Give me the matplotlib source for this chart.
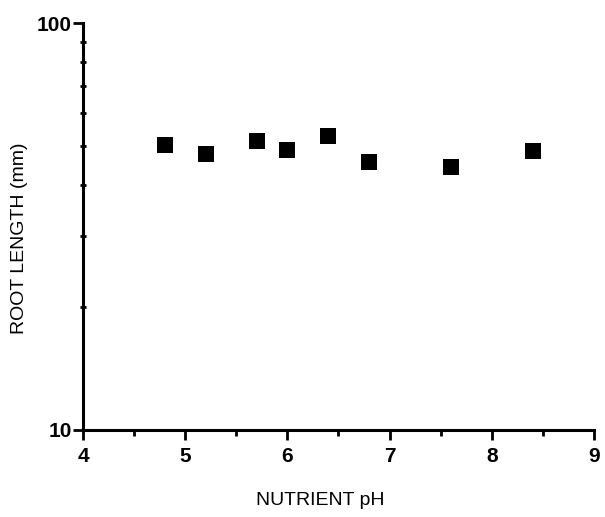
import matplotlib.pyplot as plt
from matplotlib.ticker import FixedLocator, NullFormatter, FixedFormatter

plt.rcParams['font.family'] = ['Liberation Sans', 'DejaVu Sans']

# data
ph = [4.8, 5.2, 5.7, 6.0, 6.4, 6.8, 7.6, 8.4]
root_length = [50.2, 47.6, 51.3, 48.7, 52.7, 45.5, 44.3, 48.6]

x_ticks = [4, 5, 6, 7, 8, 9]
x_minor = [4.5, 5.5, 6.5, 7.5, 8.5]
y_ticks = [10, 100]
y_minor = [20, 30, 40, 50, 60, 70, 80, 90]

fig = plt.figure(figsize=(6.05, 5.17), dpi=100)
ax = fig.add_axes([0.1372, 0.1683, 0.8446, 0.7872])

ax.plot(ph, root_length, 's', color='black', markersize=12, markeredgewidth=0)

ax.set_yscale('log')
ax.set_xlim(4, 9)
ax.set_ylim(10, 100)

ax.xaxis.set_major_locator(FixedLocator(x_ticks))
ax.xaxis.set_minor_locator(FixedLocator(x_minor))
ax.yaxis.set_major_locator(FixedLocator(y_ticks))
ax.yaxis.set_major_formatter(FixedFormatter([str(v) for v in y_ticks]))
ax.yaxis.set_minor_locator(FixedLocator(y_minor))
ax.yaxis.set_minor_formatter(NullFormatter())

for s in ['top', 'right']:
    ax.spines[s].set_visible(False)
for s in ['left', 'bottom']:
    ax.spines[s].set_linewidth(2.2)

ax.tick_params(axis='x', which='major', direction='out', length=7, width=2, pad=5, labelsize=15)
ax.tick_params(axis='x', which='minor', direction='out', length=4, width=2)
ax.tick_params(axis='y', which='major', direction='out', length=7, width=2, pad=1, labelsize=15)
ax.tick_params(axis='y', which='minor', direction='inout', length=4, width=2)
for lab in ax.get_xticklabels() + ax.get_yticklabels():
    lab.set_fontweight('bold')

ax.set_xlabel('NUTRIENT pH', fontsize=14)
ax.set_ylabel('ROOT LENGTH (mm)', fontsize=14)
ax.xaxis.set_label_coords(0.464, -0.152)
ax.yaxis.set_label_coords(-0.108, 0.47)

fig.savefig('out.png', dpi=100)
